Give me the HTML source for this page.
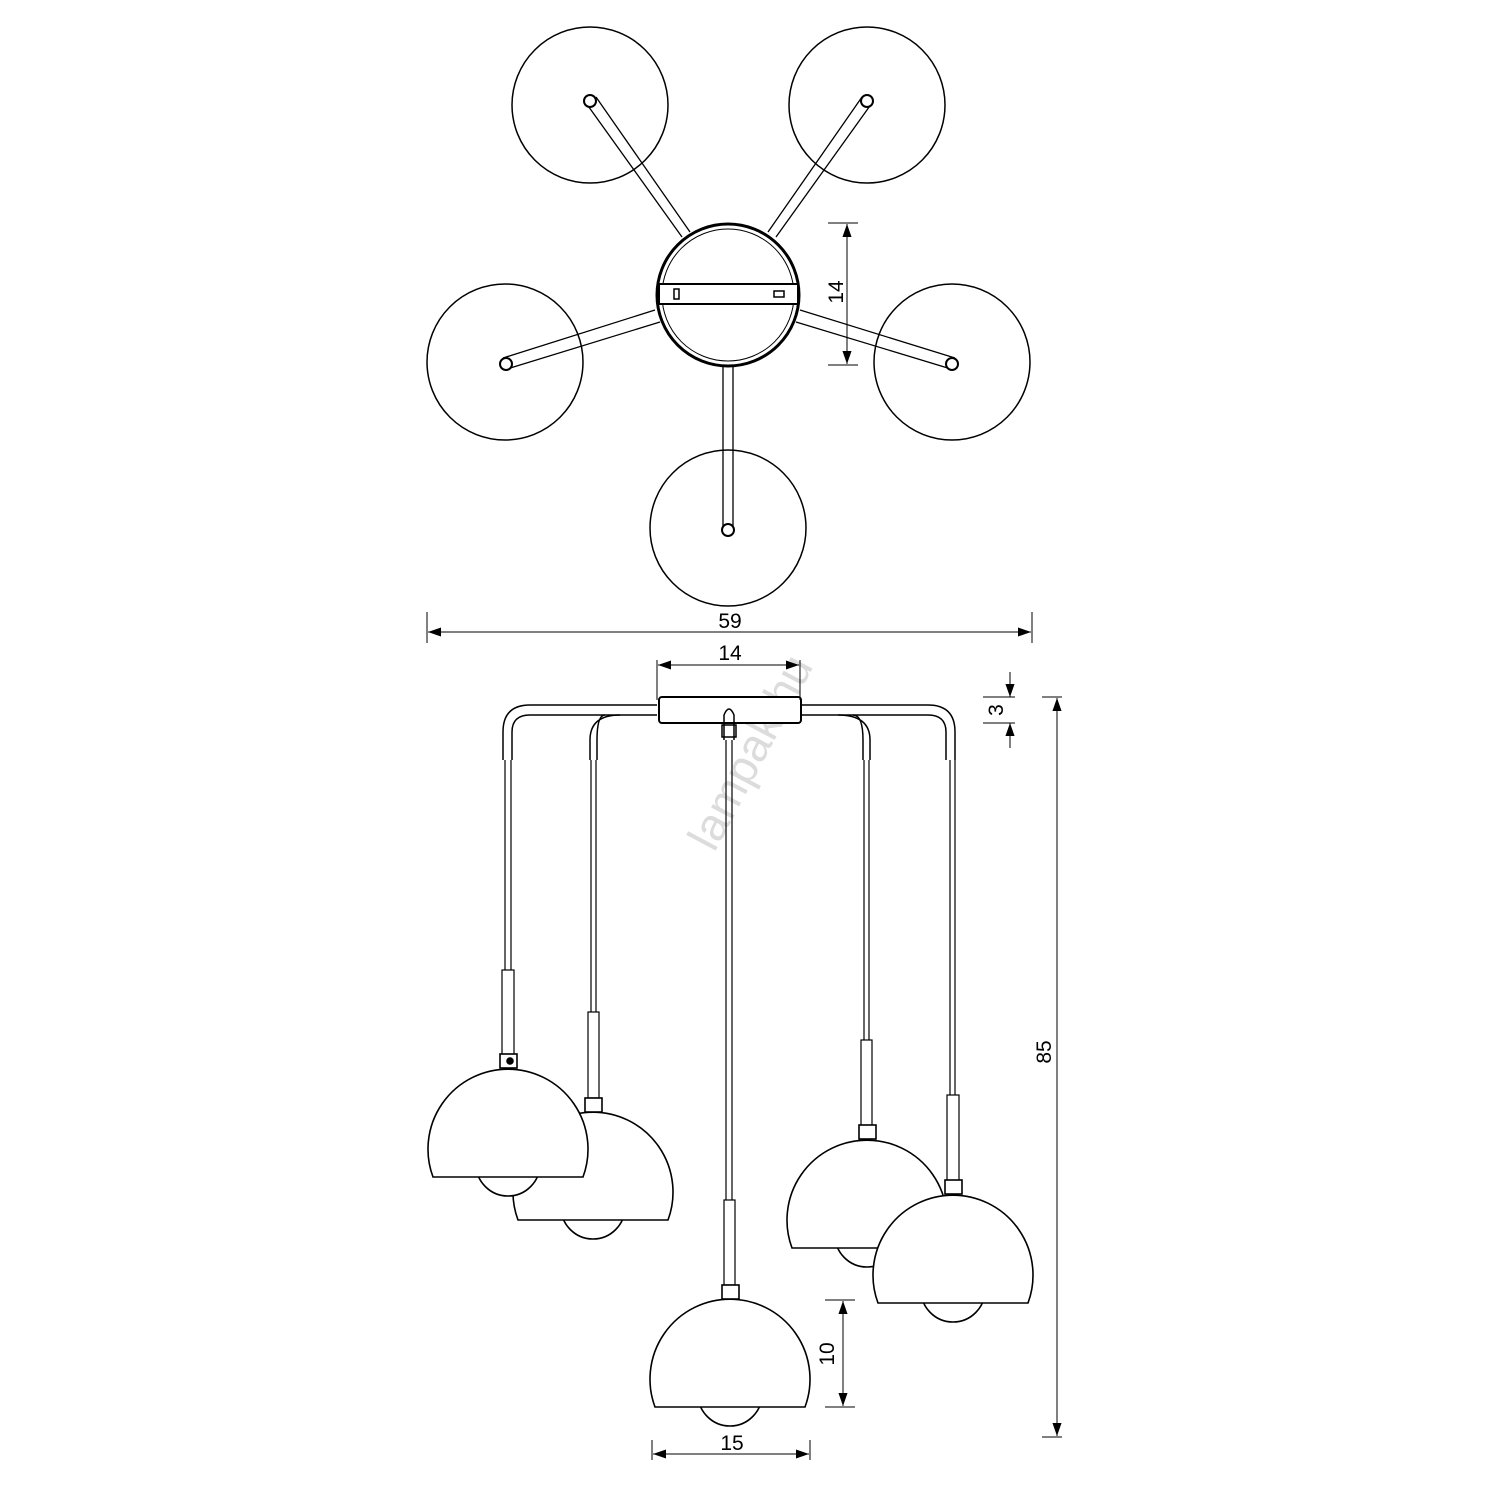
<!DOCTYPE html>
<html><head><meta charset="utf-8"><style>html,body{margin:0;padding:0;background:#fff}svg{display:block}</style></head>
<body>
<svg width="1500" height="1500" viewBox="0 0 1500 1500" xmlns="http://www.w3.org/2000/svg" font-family="Liberation Sans, sans-serif">
<defs>
<marker id="a" viewBox="0 0 10 10" refX="10" refY="5" markerWidth="13" markerHeight="13" markerUnits="userSpaceOnUse" orient="auto-start-reverse"><path d="M0,1.5 L10,5 L0,8.5 z" fill="#000"/></marker>
</defs>
<text x="750" y="768" font-size="46" fill="#dcdcdc" transform="rotate(-62 750 752)" text-anchor="middle">lampak.hu</text>
<g fill="none" stroke="#000" stroke-width="1.5">
<circle cx="590" cy="105" r="78"/>
<circle cx="867" cy="105" r="78"/>
<circle cx="505" cy="362" r="78"/>
<circle cx="952" cy="362" r="78"/>
<circle cx="728" cy="528" r="78"/>
<g stroke-width="1.3">
<path d="M586,103 L682,237 M596,97 L690,232"/>
<path d="M862,97 L768,232 M872,103 L776,237"/>
<path d="M503,358 L655,310 M507,369 L660,322"/>
<path d="M955,358 L800,310 M951,369 L796,322"/>
<path d="M723,528 L723,362 M733,528 L733,362"/>
</g>
<circle cx="590" cy="101" r="6" fill="#fff" stroke-width="2"/>
<circle cx="867" cy="101" r="6" fill="#fff" stroke-width="2"/>
<circle cx="506" cy="364" r="6" fill="#fff" stroke-width="2"/>
<circle cx="952" cy="364" r="6" fill="#fff" stroke-width="2"/>
<circle cx="728" cy="530" r="6" fill="#fff" stroke-width="2"/>
<circle cx="728" cy="295" r="71" fill="#fff" stroke-width="3"/>
<circle cx="728" cy="295" r="66" stroke-width="1"/>
<rect x="659" y="284" width="139" height="20" fill="#fff" stroke-width="2"/>
<rect x="674" y="289" width="5" height="10" stroke-width="1.5"/>
<rect x="774" y="291" width="10" height="6" stroke-width="1.5"/>
<path d="M657,705 L530,705 Q503,705 503,732 L503,760 M657,715 L530,715 Q512,715 512,732 L512,760" />
<path d="M800,705 L928,705 Q955,705 955,732 L955,760 M800,715 L928,715 Q946,715 946,732 L946,760" />
<path d="M620,715 Q590,715 590,740 L590,760 M605,715 Q597,715 597,740 L597,760"/>
<path d="M838,715 Q870,715 870,740 L870,760 M853,715 Q863,715 863,740 L863,760"/>
<rect x="659" y="697" width="142" height="26" rx="3" fill="#fff" stroke-width="2"/>
<path d="M724,740 L724,715 Q729,703 734,715 L734,740"/>
<rect x="722" y="725" width="14" height="12"/>
<g stroke-width="1.2">
<path d="M505,760 V970 M511,760 V970"/><rect x="502" y="970" width="12" height="85"/>
<path d="M591,760 V1012 M596,760 V1012"/><rect x="588" y="1012" width="11" height="86"/>
<path d="M726,740 V1200 M732,740 V1200"/><rect x="724" y="1200" width="11" height="85"/>
<path d="M864,760 V1040 M869,760 V1040"/><rect x="861" y="1040" width="11" height="86"/>
<path d="M950,760 V1095 M955,760 V1095"/><rect x="947" y="1095" width="12" height="86"/>
</g>
</g>
<g fill="#fff" stroke="#000" stroke-width="1.6">
<g><circle cx="593" cy="1207" r="32"/><path d="M518,1220 A80,80 0 1 1 668,1220 Z"/><rect x="585" y="1098" width="17" height="14"/></g>
<g><circle cx="508" cy="1164" r="32"/><path d="M433,1177 A80,80 0 1 1 583,1177 Z"/><rect x="500" y="1054" width="17" height="14"/><circle cx="510" cy="1061" r="3" fill="#000"/></g>
<g><circle cx="867" cy="1235" r="32"/><path d="M792,1248 A80,80 0 1 1 942,1248 Z"/><rect x="859" y="1125" width="17" height="14"/></g>
<g><circle cx="953" cy="1290" r="32"/><path d="M878,1303 A80,80 0 1 1 1028,1303 Z"/><rect x="945" y="1180" width="17" height="14"/></g>
<g><circle cx="730" cy="1394" r="32"/><path d="M655,1407 A80,80 0 1 1 805,1407 Z"/><rect x="722" y="1285" width="17" height="14"/></g>
</g>
<g stroke="#000" stroke-width="1" fill="none">
<path d="M427,612 V643 M1032,612 V643"/>
<line x1="428" y1="632" x2="1031" y2="632" marker-start="url(#a)" marker-end="url(#a)"/>
<path d="M657,660 V700 M800,660 V700"/>
<line x1="658" y1="665" x2="799" y2="665" marker-start="url(#a)" marker-end="url(#a)"/>
<path d="M828,223 H858 M828,365 H858"/>
<line x1="847" y1="224" x2="847" y2="364" marker-start="url(#a)" marker-end="url(#a)"/>
<path d="M983,697 H1015 M983,723 H1015"/>
<line x1="1010" y1="672" x2="1010" y2="697" marker-end="url(#a)"/>
<line x1="1010" y1="748" x2="1010" y2="723" marker-end="url(#a)"/>
<path d="M1042,697 H1062 M1042,1437 H1062"/>
<line x1="1057" y1="698" x2="1057" y2="1436" marker-start="url(#a)" marker-end="url(#a)"/>
<path d="M825,1300 H855 M825,1407 H855"/>
<line x1="843" y1="1301" x2="843" y2="1406" marker-start="url(#a)" marker-end="url(#a)"/>
<path d="M652,1440 V1460 M810,1440 V1460"/>
<line x1="653" y1="1454" x2="809" y2="1454" marker-start="url(#a)" marker-end="url(#a)"/>
</g>
<g font-size="21" fill="#000" text-anchor="middle">
<text x="730" y="628">59</text>
<text x="730" y="660">14</text>
<text x="732" y="1450">15</text>
<text transform="translate(843,292) rotate(-90)">14</text>
<text transform="translate(1003,710) rotate(-90)">3</text>
<text transform="translate(1051,1052) rotate(-90)">85</text>
<text transform="translate(834,1354) rotate(-90)">10</text>
</g>
</svg>
</body></html>
